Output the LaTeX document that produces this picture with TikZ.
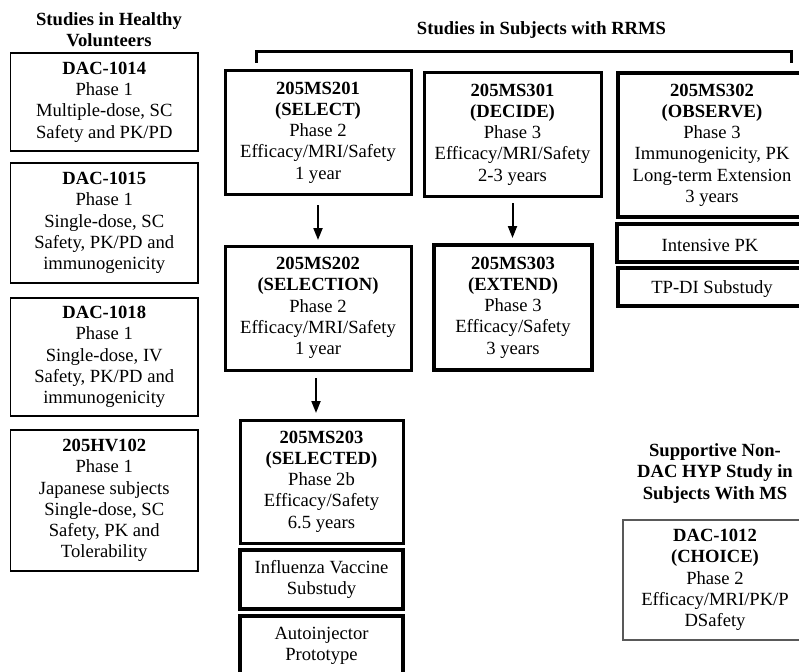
\documentclass[tikz,border=0pt]{standalone}
\usepackage{fontspec}
\setmainfont{Liberation Serif}
\usetikzlibrary{arrows.meta}
\tikzset{
  txt/.style={font=\fontsize{18.6}{21.25}\selectfont, align=center, inner sep=0pt, outer sep=0pt,
    execute at begin node={\rule{0pt}{17.5pt}}},
  ttl/.style={txt, font=\fontsize{18.6}{21.25}\selectfont\bfseries},
  thinbox/.style={txt, draw=black, line width=1.2pt},
  greybox/.style={txt, draw=black!65, line width=1.2pt},
  boldbox/.style={txt, draw=black, line width=3pt},
  heavybox/.style={txt, draw=black, line width=4pt},
  arr/.style={line width=2pt, -{Triangle[length=12pt,width=9pt]}},
  brk/.style={line width=3pt},
}
\begin{document}
\begin{tikzpicture}[x=1pt,y=-1pt]
\useasboundingbox (0,0) rectangle (799,671);
\fill[white] (0,0) rectangle (799,671);
\clip (0,0) rectangle (799,671);

% left column
\node[ttl] (tleft) at (109,30) {Studies in Healthy\\Volunteers};
\node[thinbox, minimum width=187.5pt, minimum height=98pt] (d1014) at (104.25,102) {\textbf{DAC-1014}\\Phase 1\\Multiple-dose, SC\\Safety and PK/PD};
\node[thinbox, minimum width=187.5pt, minimum height=120pt] (d1015) at (104.25,223) {\textbf{DAC-1015}\\Phase 1\\Single-dose, SC\\Safety, PK/PD and\\immunogenicity};
\node[thinbox, minimum width=187.5pt, minimum height=118pt] (d1018) at (104.25,357) {\textbf{DAC-1018}\\Phase 1\\Single-dose, IV\\Safety, PK/PD and\\immunogenicity};
\node[thinbox, minimum width=187.5pt, minimum height=141pt] (hv102) at (104.25,500.5) {\textbf{205HV102}\\Phase 1\\Japanese subjects\\Single-dose, SC\\Safety, PK and\\Tolerability};

% RRMS title and bracket
\node[ttl] (tright) at (541.5,28) {Studies in Subjects with RRMS};
\coordinate (bl) at (256,63);
\coordinate (br) at (791,63);
\draw[brk] (bl) -- (256,52) -- (791,52) -- (br);

% RRMS studies
\node[boldbox, minimum width=186pt, minimum height=123pt] (s201) at (318,132.5) {\textbf{205MS201}\\\textbf{(SELECT)}\\Phase 2\\Efficacy/MRI/Safety\\1 year};
\node[boldbox, minimum width=177pt, minimum height=123pt] (s301) at (512.5,134.5) {\textbf{205MS301}\\\textbf{(DECIDE)}\\Phase 3\\Efficacy/MRI/Safety\\2-3 years};
\node[txt, draw=black, line width=3.5pt, minimum width=188pt, minimum height=144pt] (s302) at (712,145) {\textbf{205MS302}\\\textbf{(OBSERVE)}\\Phase 3\\Immunogenicity, PK\\Long-term Extension\\3 years};
\node[heavybox, minimum width=186pt, minimum height=38pt] (ipk) at (710,243) {Intensive PK};
\node[heavybox, minimum width=188pt, minimum height=38pt] (tpdi) at (712,287) {TP-DI Substudy};

\node[boldbox, minimum width=186pt, minimum height=124pt] (s202) at (318,308) {\textbf{205MS202}\\\textbf{(SELECTION)}\\Phase 2\\Efficacy/MRI/Safety\\1 year};
\node[heavybox, minimum width=158pt, minimum height=125pt] (s303) at (513,307.5) {\textbf{205MS303}\\\textbf{(EXTEND)}\\Phase 3\\Efficacy/Safety\\3 years};

\node[boldbox, minimum width=163pt, minimum height=123pt] (s203) at (321.5,481.5) {\textbf{205MS203}\\\textbf{(SELECTED)}\\Phase 2b\\Efficacy/Safety\\6.5 years};
\node[heavybox, minimum width=163pt, minimum height=59pt] (flu) at (321.5,579.5) {Influenza Vaccine\\Substudy};
\node[heavybox, minimum width=163pt, minimum height=59pt] (auto) at (321.5,645.5) {Autoinjector\\Prototype};

% arrows
\draw[arr, shorten <=11pt, shorten >=6pt] (s201.south) -- (s201.south |- s202.north);
\draw[arr, shorten <=7pt, shorten >=7pt] (s301.south) -- (s301.south |- s303.north);
\draw[arr, shorten <=8pt, shorten >=7pt] ([xshift=-2pt]s202.south) -- ([xshift=-2pt]s202.south |- s203.north);

% supportive
\node[ttl] (tsup) at (715,473.5) {Supportive Non-\\DAC HYP Study in\\Subjects With MS};
\node[greybox, minimum width=184pt, minimum height=120pt] (d1012) at (715,580) {\textbf{DAC-1012}\\\textbf{(CHOICE)}\\Phase 2\\Efficacy/MRI/PK/P\\DSafety};
\end{tikzpicture}
\end{document}
